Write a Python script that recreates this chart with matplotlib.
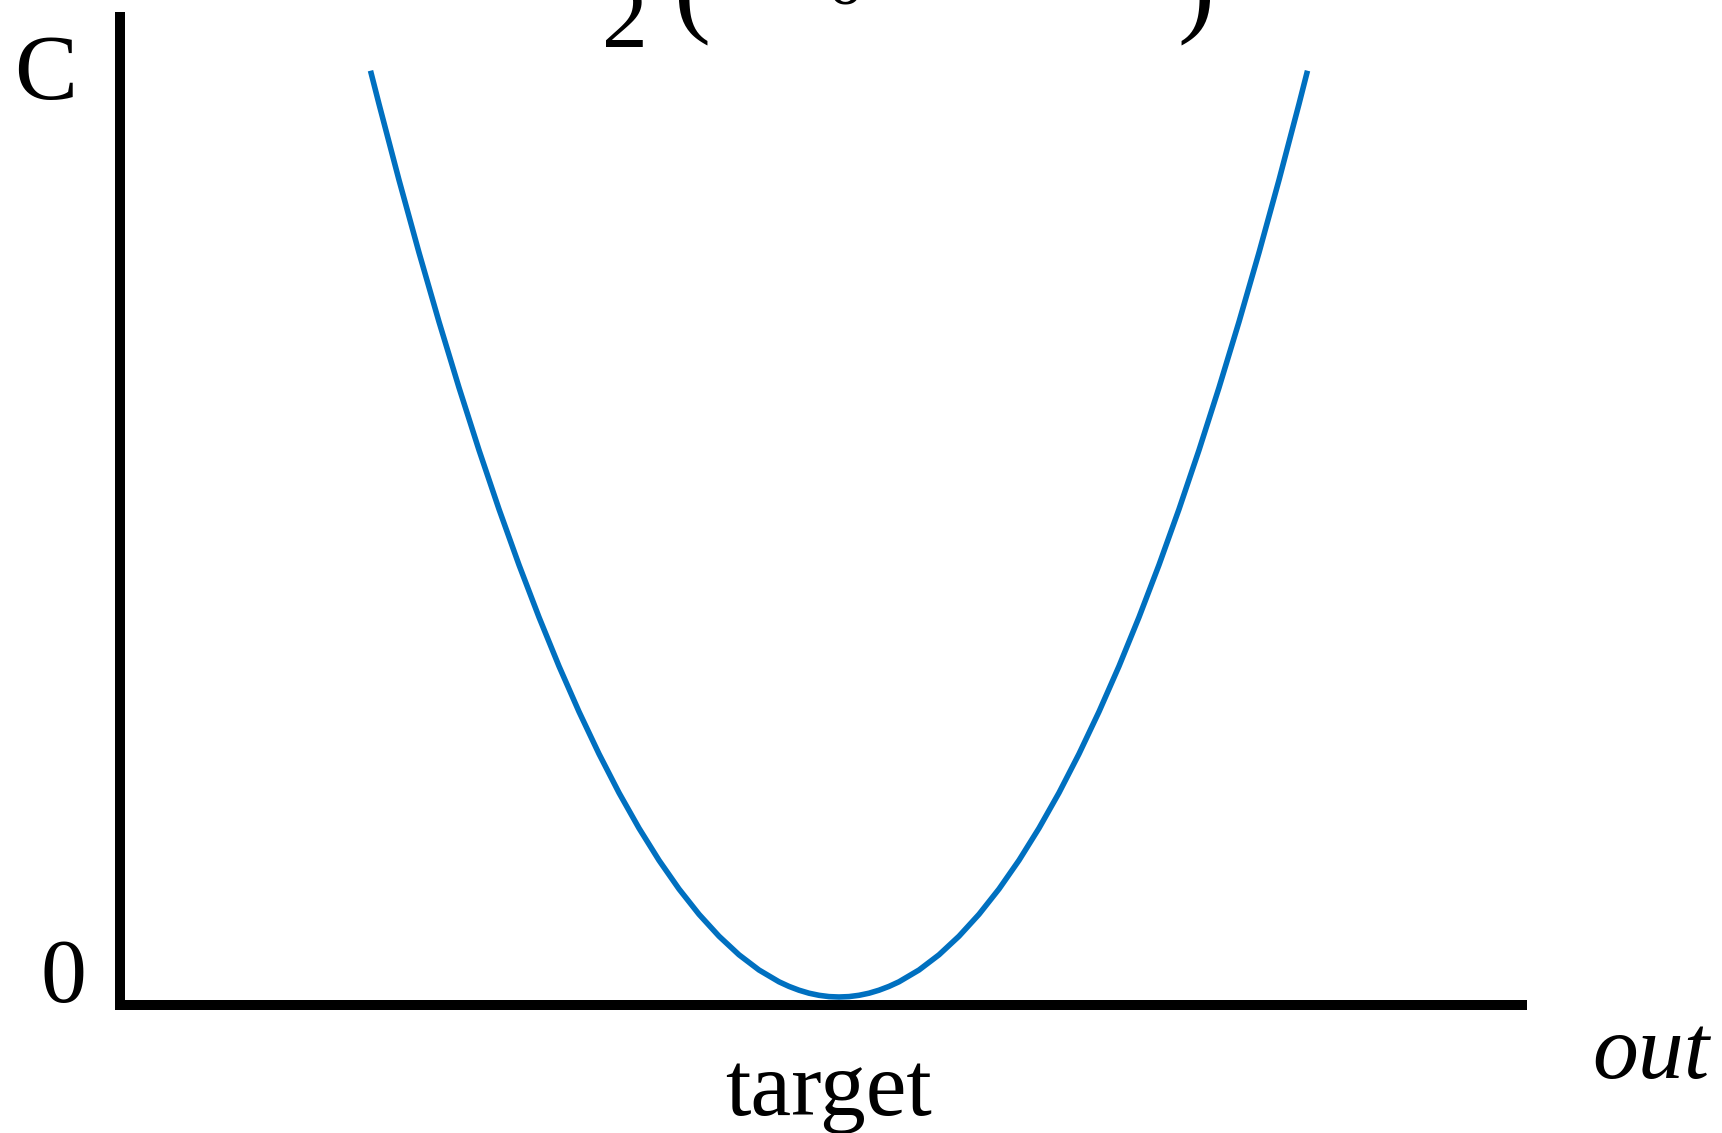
import matplotlib
matplotlib.use("Agg")
import matplotlib.pyplot as plt

# figure size in pixels (dpi 100)
W, H = 1722, 1133

# cost curve C(out) (1 unit = 100 px)
out_vals = [2.515, 2.600, 2.800, 3.000, 3.200, 3.400, 3.600, 3.800, 4.000, 4.200,
            4.400, 4.600, 4.800, 5.000, 5.200, 5.400, 5.600, 5.800, 6.000, 6.200,
            6.400, 6.600, 6.700, 6.800, 6.900, 7.000, 7.100, 7.200, 7.300, 7.400,
            7.500, 7.600, 7.700, 7.800, 8.000, 8.200, 8.400, 8.600, 8.800, 9.000,
            9.200, 9.400, 9.600, 9.800, 10.000, 10.200, 10.400, 10.600, 10.800,
            11.000, 11.200, 11.400, 11.600, 11.800, 11.885]
cost_vals = [9.263, 8.930, 8.170, 7.444, 6.752, 6.094, 5.469, 4.878, 4.321, 3.798,
             3.308, 2.853, 2.431, 2.042, 1.688, 1.367, 1.080, 0.827, 0.608, 0.422,
             0.270, 0.152, 0.106, 0.068, 0.038, 0.017, 0.004, 0.000, 0.004, 0.017,
             0.038, 0.068, 0.106, 0.152, 0.270, 0.422, 0.608, 0.827, 1.080, 1.367,
             1.688, 2.042, 2.431, 2.853, 3.308, 3.798, 4.321, 4.878, 5.469,
             6.094, 6.752, 7.444, 8.170, 8.930, 9.263]
target = 7.20

plt.rcParams['font.family'] = ['Liberation Serif', 'DejaVu Serif']


def px_text(x, y, s, **kw):
    # place text by pixel position (from top-left of the picture)
    return fig.text(x / W, 1 - y / H, s, **kw)


fig = plt.figure(figsize=(W / 100, H / 100), dpi=100)
ax = fig.add_axes([120.5 / W, (H - 1005) / H, (1522 - 120.5) / W, (1005 - 17) / H])

ax.plot(out_vals, cost_vals, color='#0070C0', lw=4.0, solid_capstyle='butt',
        solid_joinstyle='round')

ax.set_xlim(0.015, 14.03)
ax.set_ylim(-0.08, 9.80)
ax.set_xticks([])
ax.set_yticks([])
for side in ['top', 'right']:
    ax.spines[side].set_visible(False)
for side in ['left', 'bottom']:
    ax.spines[side].set_linewidth(7.2)
    ax.spines[side].set_capstyle('projecting')

# axis labels
px_text(14, 99, 'C', fontsize=68, ha='left', va='baseline')
px_text(63, 1002, '0', fontsize=66, ha='center', va='baseline')
px_text(828, 1115, 'target', fontsize=66, ha='center', va='baseline')
px_text(1651, 1078, 'out', fontsize=66, style='italic', ha='center', va='baseline')

# formula at the top, mostly cut off by the picture edge (as in the original)
px_text(624.5, 47, '2', fontsize=66, ha='center', va='baseline')
px_text(692, 23, '(', fontsize=80, ha='center', va='baseline')
px_text(845, 3, 'o', fontsize=48, ha='center', va='baseline')
px_text(1196, 23, ')', fontsize=80, ha='center', va='baseline')

fig.savefig('out.png', dpi=100)
